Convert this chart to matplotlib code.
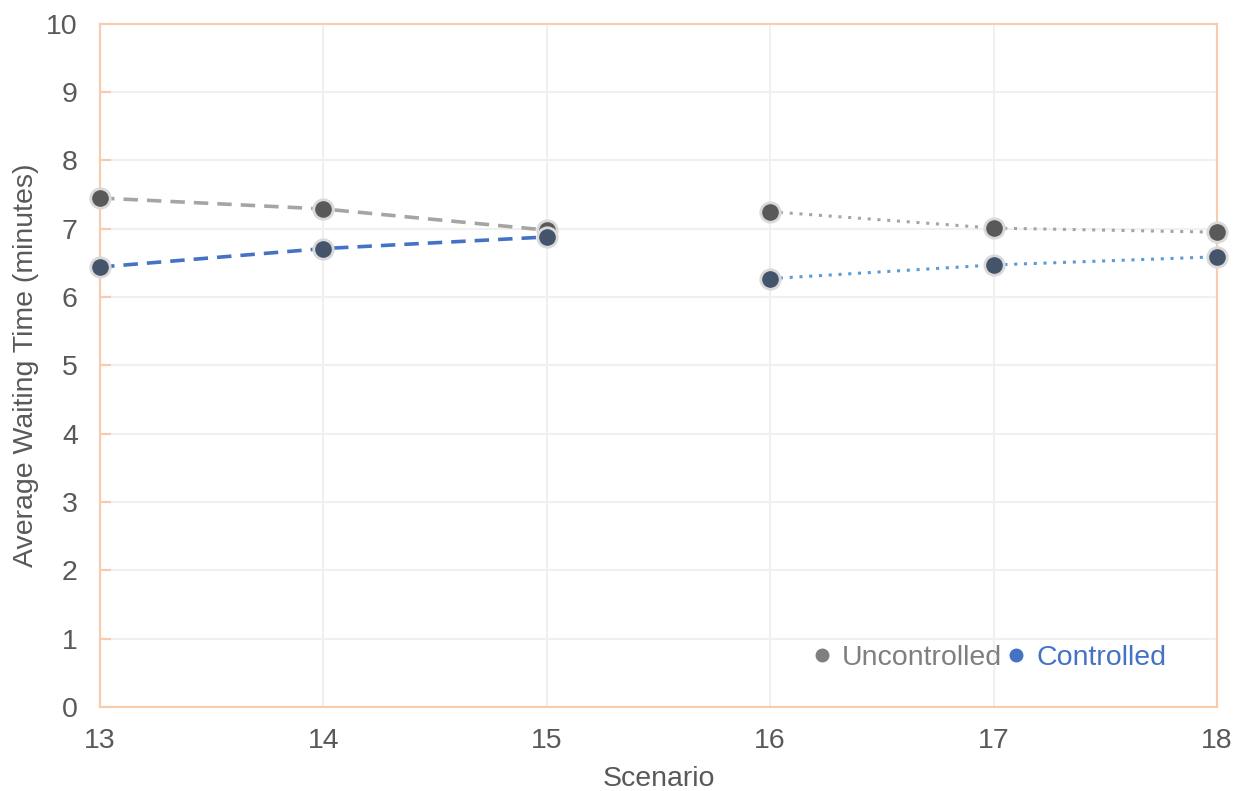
import matplotlib.pyplot as plt
from matplotlib.lines import Line2D

plt.rcParams['font.family'] = ['Liberation Sans', 'DejaVu Sans']

# scenarios 13-15 and 16-18 are drawn as separate segments
scen_a = [13, 14, 15]
scen_b = [16, 17, 18]
uncontrolled_a = [7.45, 7.29, 6.98]
controlled_a = [6.44, 6.71, 6.88]
uncontrolled_b = [7.25, 7.01, 6.95]
controlled_b = [6.27, 6.47, 6.59]

grey_line = '#a5a5a5'
blue_dash = '#4472c4'
blue_dot = '#5b9bd5'
edge = '#f8cbad'
txt = '#595959'
fs = 20.5

fig, ax = plt.subplots(figsize=(12.43, 7.91), dpi=100)
fig.subplots_adjust(left=0.0805, right=0.979, top=0.970, bottom=0.106)

mk = dict(marker='o', markersize=14, markeredgewidth=2, markeredgecolor='#d9d9d9',
          zorder=3, clip_on=False)

ax.plot(scen_a, uncontrolled_a, color=grey_line, lw=2.6, ls=(0, (4, 2.5)),
        markerfacecolor='#595959', **mk)
ax.plot(scen_a, controlled_a, color=blue_dash, lw=2.6, ls=(0, (4, 2.5)),
        markerfacecolor='#44546a', **mk)
ax.plot(scen_b, uncontrolled_b, color=grey_line, lw=2.2, ls=(0, (1, 2.2)),
        markerfacecolor='#595959', **mk)
ax.plot(scen_b, controlled_b, color=blue_dot, lw=2.2, ls=(0, (1, 2.2)),
        markerfacecolor='#44546a', **mk)

ax.set_xlim(13, 18)
ax.set_ylim(0, 10)
ax.set_xticks(range(13, 19))
ax.set_yticks(range(0, 11))
ax.grid(True, color='#f0f0f0', lw=1.5)
ax.set_axisbelow(True)

for s in ax.spines.values():
    s.set_color(edge)
    s.set_linewidth(1.5)
    s.set_zorder(2)

ax.tick_params(axis='y', direction='in', length=8, width=1.5, color=edge,
               labelsize=fs, labelcolor=txt, pad=16)
ax.tick_params(axis='x', length=0, labelsize=fs, labelcolor=txt, pad=15)

ax.set_xlabel('Scenario', fontsize=fs, color=txt, labelpad=9)
ax.set_ylabel('Average Waiting Time (minutes)', fontsize=fs, color=txt, labelpad=5)

handles = [Line2D([], [], ls='none', marker='o', markersize=9, color='#7f7f7f'),
           Line2D([], [], ls='none', marker='o', markersize=9, color='#4472c4')]
ax.legend(handles, ['Uncontrolled', 'Controlled'], loc='center left',
          bbox_to_anchor=(0.64, 0.072), ncol=2, frameon=False, fontsize=fs,
          labelcolor=['#7f7f7f', '#4472c4'], handlelength=0.5,
          handletextpad=0.45, columnspacing=0.25, borderaxespad=0, borderpad=0)

fig.savefig('out.png', dpi=100)
